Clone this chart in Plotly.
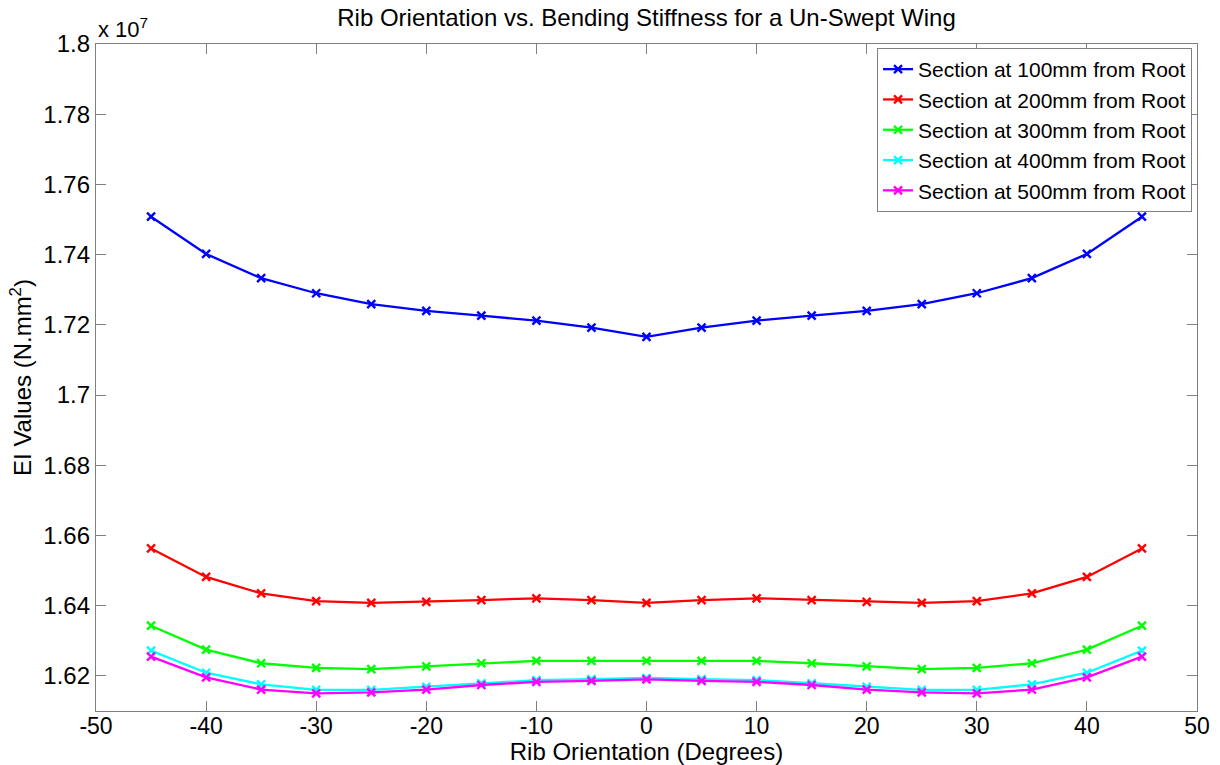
import plotly.graph_objects as go

# Rib orientation angles (degrees)
angles = [-45, -40, -35, -30, -25, -20, -15, -10, -5, 0, 5, 10, 15, 20, 25, 30, 35, 40, 45]

# Bending stiffness EI (N.mm^2) for each spanwise section
ei_100 = [1.7508e7, 1.7402e7, 1.7333e7, 1.7290e7, 1.7259e7, 1.7240e7, 1.7226e7, 1.7212e7, 1.7192e7, 1.7166e7,
          1.7192e7, 1.7212e7, 1.7226e7, 1.7240e7, 1.7259e7, 1.7290e7, 1.7333e7, 1.7402e7, 1.7508e7]
ei_200 = [1.6563e7, 1.6482e7, 1.6435e7, 1.6413e7, 1.6408e7, 1.6411e7, 1.6416e7, 1.6421e7, 1.6416e7, 1.6408e7,
          1.6416e7, 1.6421e7, 1.6416e7, 1.6411e7, 1.6408e7, 1.6413e7, 1.6435e7, 1.6482e7, 1.6563e7]
ei_300 = [1.6343e7, 1.6275e7, 1.6236e7, 1.6223e7, 1.6219e7, 1.6227e7, 1.6236e7, 1.6243e7, 1.6243e7, 1.6243e7,
          1.6243e7, 1.6243e7, 1.6236e7, 1.6227e7, 1.6219e7, 1.6223e7, 1.6236e7, 1.6275e7, 1.6343e7]
ei_400 = [1.6272e7, 1.6209e7, 1.6176e7, 1.6160e7, 1.6160e7, 1.6169e7, 1.6179e7, 1.6188e7, 1.6191e7, 1.6194e7,
          1.6191e7, 1.6188e7, 1.6179e7, 1.6169e7, 1.6160e7, 1.6160e7, 1.6176e7, 1.6209e7, 1.6272e7]
ei_500 = [1.6255e7, 1.6196e7, 1.6161e7, 1.6150e7, 1.6153e7, 1.6161e7, 1.6174e7, 1.6183e7, 1.6186e7, 1.6190e7,
          1.6186e7, 1.6183e7, 1.6174e7, 1.6161e7, 1.6153e7, 1.6150e7, 1.6161e7, 1.6196e7, 1.6255e7]

series_names = ["Section at 100mm from Root", "Section at 200mm from Root", "Section at 300mm from Root",
                "Section at 400mm from Root", "Section at 500mm from Root"]
series_values = [ei_100, ei_200, ei_300, ei_400, ei_500]
series_colors = ["#0000ff", "#ff0000", "#00ff00", "#00ffff", "#ff00ff"]

x_tick_vals = [-50, -40, -30, -20, -10, 0, 10, 20, 30, 40, 50]
x_tick_text = ["-50", "-40", "-30", "-20", "-10", "0", "10", "20", "30", "40", "50"]
y_tick_vals = [1.62e7, 1.64e7, 1.66e7, 1.68e7, 1.70e7, 1.72e7, 1.74e7, 1.76e7, 1.78e7, 1.80e7]
y_tick_text = ["1.62", "1.64", "1.66", "1.68", "1.7", "1.72", "1.74", "1.76", "1.78", "1.8"]

FONT = "Liberation Sans, Arial, sans-serif"

fig = go.Figure()
for name, vals, col in zip(series_names, series_values, series_colors):
    fig.add_trace(go.Scatter(
        x=angles, y=vals, name=name, mode="lines+markers",
        line=dict(color=col, width=2.3),
        marker=dict(symbol="x-thin", size=8, line=dict(color=col, width=2.4)),
    ))

axis_common = dict(
    showline=True, linecolor="#808080", linewidth=1.3, mirror="ticks",
    ticks="inside", ticklen=10, tickcolor="#808080", tickwidth=1.3,
    showgrid=False, zeroline=False, automargin=False,
)

fig.update_layout(
    width=1220, height=765,
    margin=dict(l=96, r=23, t=44, b=54),
    paper_bgcolor="white", plot_bgcolor="white",
    font=dict(family=FONT, color="black"),
    title=dict(text="Rib Orientation vs. Bending Stiffness for a Un-Swept Wing",
               xref="paper", x=0.5, xanchor="center", yref="container", y=0.977, yanchor="middle",
               font=dict(family=FONT, size=24, color="black")),
    xaxis=dict(range=[-50, 50], tickvals=x_tick_vals, ticktext=x_tick_text,
               ticklabelstandoff=-6,
               tickfont=dict(family=FONT, size=23, color="black"),
               title=dict(text="Rib Orientation (Degrees)", standoff=0,
                          font=dict(family=FONT, size=24, color="black")),
               **axis_common),
    yaxis=dict(range=[1.61e7, 1.80e7], tickvals=y_tick_vals, ticktext=y_tick_text,
               tickfont=dict(family=FONT, size=24, color="black"),
               title=dict(text="EI Values (N.mm<sup>2</sup>)", standoff=4,
                          font=dict(family=FONT, size=24, color="black")),
               **axis_common),
    legend=dict(x=0.9955, xanchor="right", y=0.994, yanchor="top",
                bgcolor="white", bordercolor="#808080", borderwidth=1,
                font=dict(family=FONT, size=21, color="black"),
                itemwidth=30, tracegroupgap=0),
    showlegend=True,
)

fig.add_annotation(text="x 10<sup>7</sup>", xref="paper", yref="paper",
                   x=0.0, y=1.0, xanchor="left", yanchor="bottom",
                   showarrow=False, font=dict(family=FONT, size=22, color="black"))

fig.write_html("out.html")
